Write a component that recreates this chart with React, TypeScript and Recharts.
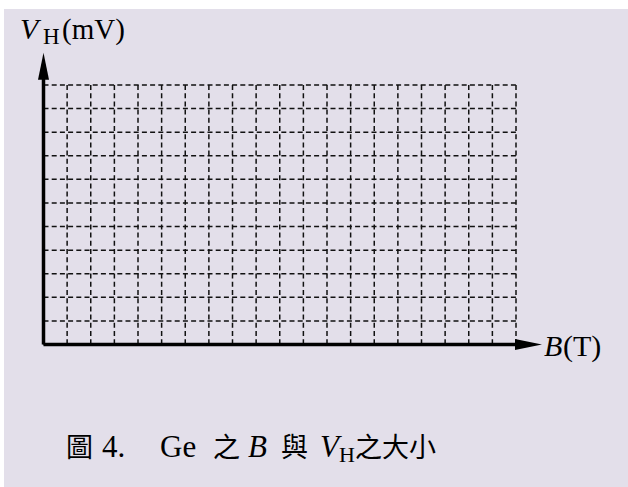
import React from "react";
import { LineChart, XAxis, YAxis, CartesianGrid, ReferenceLine, ReferenceDot } from "recharts";

const bTicks = [0, 1, 2, 3, 4, 5, 6, 7, 8, 9, 10, 11, 12, 13, 14, 15, 16, 17, 18, 19, 20];
const vTicks = [0, 1, 2, 3, 4, 5, 6, 7, 8, 9, 10, 11];
const bMax = 20;
const vMax = 11;
const bArrowTip = 21.1;
const vArrowTip = 12.37;

const xLabel = "B";
const xUnit = "(T)";
const yLabel = "V";
const ySub = "H";
const yUnit = "(mV)";

const serif = "'Liberation Serif', 'Times New Roman', serif";
const cjk = "'Noto Sans CJK TC', 'Noto Sans CJK SC', sans-serif";

const RightArrow = (props: any) => {
  const { cx, cy } = props;
  return <polygon points={`${cx},${cy} ${cx - 27},${cy - 5.5} ${cx - 27},${cy + 5.5}`} fill="#000" />;
};
const UpArrow = (props: any) => {
  const { cx, cy } = props;
  return <polygon points={`${cx},${cy} ${cx - 5.5},${cy + 27} ${cx + 5.5},${cy + 27}`} fill="#000" />;
};

export default function App() {
  return (
    <div style={{ position: "absolute", left: 0, top: 0, width: 628, height: 487, background: "#fff", overflow: "hidden" }}>
      <div style={{ position: "absolute", left: 4, top: 9, width: 624, height: 478, background: "#e3dfea" }} />
      <div style={{ position: "absolute", left: 0, top: 0 }}>
        <LineChart width={628} height={487} data={[]} margin={{ top: 85, left: 43.5, right: 112, bottom: 142.5 }}>
          <XAxis type="number" dataKey="b" domain={[0, bMax]} ticks={bTicks} hide allowDataOverflow />
          <YAxis type="number" dataKey="v" domain={[0, vMax]} ticks={vTicks} hide allowDataOverflow />
          <CartesianGrid stroke="#111" strokeWidth={1.5} strokeDasharray="5 3.2" />
          <ReferenceLine segment={[{ x: 0, y: 0 }, { x: 20.3, y: 0 }]} stroke="#000" strokeWidth={3.5} ifOverflow="visible" />
          <ReferenceLine segment={[{ x: 0, y: 0 }, { x: 0, y: 11.5 }]} stroke="#000" strokeWidth={3.5} ifOverflow="visible" />
          <ReferenceDot x={bArrowTip} y={0} ifOverflow="visible" shape={RightArrow} />
          <ReferenceDot x={0} y={vArrowTip} ifOverflow="visible" shape={UpArrow} />
        </LineChart>
      </div>
      <svg width={628} height={487} style={{ position: "absolute", left: 0, top: 0 }}>
        <text x={20} y={38.5} fontFamily={serif} fontSize={30} fontStyle="italic" fill="#000">{yLabel}</text>
        <text x={43} y={43.5} fontFamily={serif} fontSize={23} fill="#000">{ySub}</text>
        <text x={62} y={38.5} fontFamily={serif} fontSize={29} fill="#000">{yUnit}</text>

        <text x={544} y={355.5} fontFamily={serif} fontSize={30} fontStyle="italic" fill="#000">{xLabel}</text>
        <text x={563} y={355.5} fontFamily={serif} fontSize={30} fill="#000">{xUnit}</text>

        <text x={66} y={457} fontFamily={cjk} fontSize={27} fill="#000">圖</text>
        <text x={102} y={457} fontFamily={serif} fontSize={31} fill="#000">4.</text>
        <text x={160} y={457} fontFamily={serif} fontSize={31} fill="#000">Ge</text>
        <text x={213} y={457} fontFamily={cjk} fontSize={27} fill="#000">之</text>
        <text x={248} y={457} fontFamily={serif} fontSize={31} fontStyle="italic" fill="#000">B</text>
        <text x={281} y={457} fontFamily={cjk} fontSize={27} fill="#000">與</text>
        <text x={320} y={457} fontFamily={serif} fontSize={31} fontStyle="italic" fill="#000">V</text>
        <text x={339} y={461.5} fontFamily={serif} fontSize={22} fill="#000">H</text>
        <text x={355} y={457} fontFamily={cjk} fontSize={27} fill="#000">之大小</text>
      </svg>
    </div>
  );
}
